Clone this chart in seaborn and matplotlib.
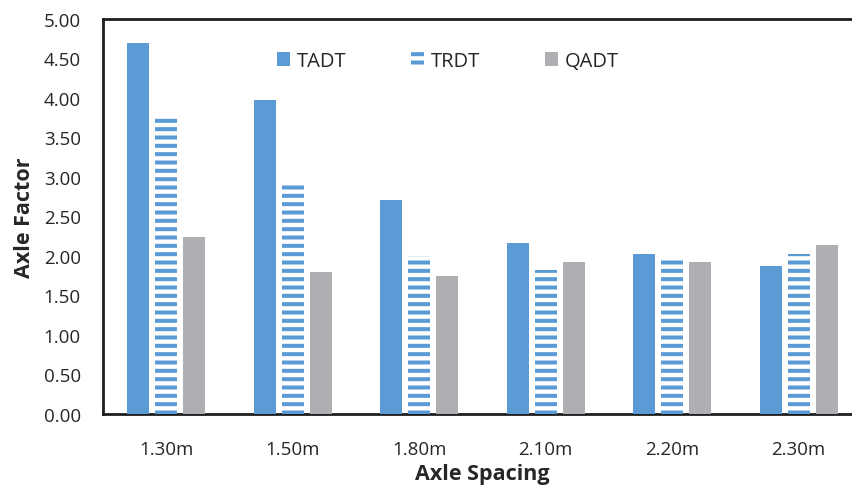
import matplotlib
matplotlib.use("Agg")
import matplotlib.pyplot as plt
from matplotlib.patches import Patch
import pandas as pd
import seaborn as sns

# Axle factor per axle spacing for each truck configuration
spacings = ["1.30m", "1.50m", "1.80m", "2.10m", "2.20m", "2.30m"]
series = ["TADT", "TRDT", "QADT"]
tadt = [4.69, 3.98, 2.71, 2.17, 2.02, 1.87]
trdt = [3.76, 2.91, 2.00, 1.82, 1.99, 2.03]
qadt = [2.24, 1.80, 1.75, 1.93, 1.92, 2.14]

blue = "#5B9BD5"
grey = "#AEAFB3"
palette = {"TADT": blue, "TRDT": blue, "QADT": grey}

df = pd.DataFrame({
    "Axle Spacing": spacings * 3,
    "Axle Factor": tadt + trdt + qadt,
    "Series": [s for s in series for _ in spacings],
})

sns.set_theme(style="white")
plt.rcParams["font.family"] = ["Open Sans", "DejaVu Sans"]
plt.rcParams["hatch.linewidth"] = 2.9

fig = plt.figure(figsize=(8.52, 4.89), dpi=100)
ax = fig.add_axes([103 / 852, 74 / 489, 759 / 852, 395 / 489])

sns.barplot(data=df, x="Axle Spacing", y="Axle Factor", hue="Series",
            hue_order=series, palette=palette, order=spacings,
            width=0.663, gap=0.21, saturation=1, legend=False, ax=ax,
            edgecolor="none", linewidth=0, zorder=3)

# striped fill for the TRDT series
for cont, name in zip(ax.containers, series):
    for bar in cont:
        if name == "TRDT":
            bar.set_facecolor("white")
            bar.set_edgecolor(blue)
            bar.set_hatch("--")
            bar.set_linewidth(0)

ax.set_ylim(0, 5)
ax.set_xlim(-0.5, 5.5)
ax.set_yticks([i * 0.5 for i in range(11)])
ax.set_yticklabels([f"{i * 0.5:.2f}" for i in range(11)])
ax.tick_params(axis="y", length=0, pad=16, labelsize=13.5, colors="#262626")
ax.tick_params(axis="x", length=0, pad=19, labelsize=13.5, colors="#262626")

for side in ["left", "bottom", "top", "right"]:
    ax.spines[side].set_color("#1e1e1e")
    ax.spines[side].set_linewidth(2.0)

ax.set_xlabel("Axle Spacing", fontsize=15.5, fontweight="bold", color="#262626",
              labelpad=3)
ax.set_ylabel("Axle Factor", fontsize=15.5, fontweight="bold", color="#262626",
              labelpad=6)

handles = [
    Patch(facecolor=blue, edgecolor="none", label="TADT"),
    Patch(facecolor="white", edgecolor=blue, hatch="--", linewidth=0, label="TRDT"),
    Patch(facecolor=grey, edgecolor="none", label="QADT"),
]
fig.legend(handles=handles, loc="center left",
           bbox_to_anchor=(277 / 852, 1 - 62 / 489), ncol=3, frameon=False,
           fontsize=14.5, handlelength=0.65, handleheight=0.65, handletextpad=0.35,
           columnspacing=3.2, borderpad=0, borderaxespad=0)

fig.savefig("out.png", dpi=100)
